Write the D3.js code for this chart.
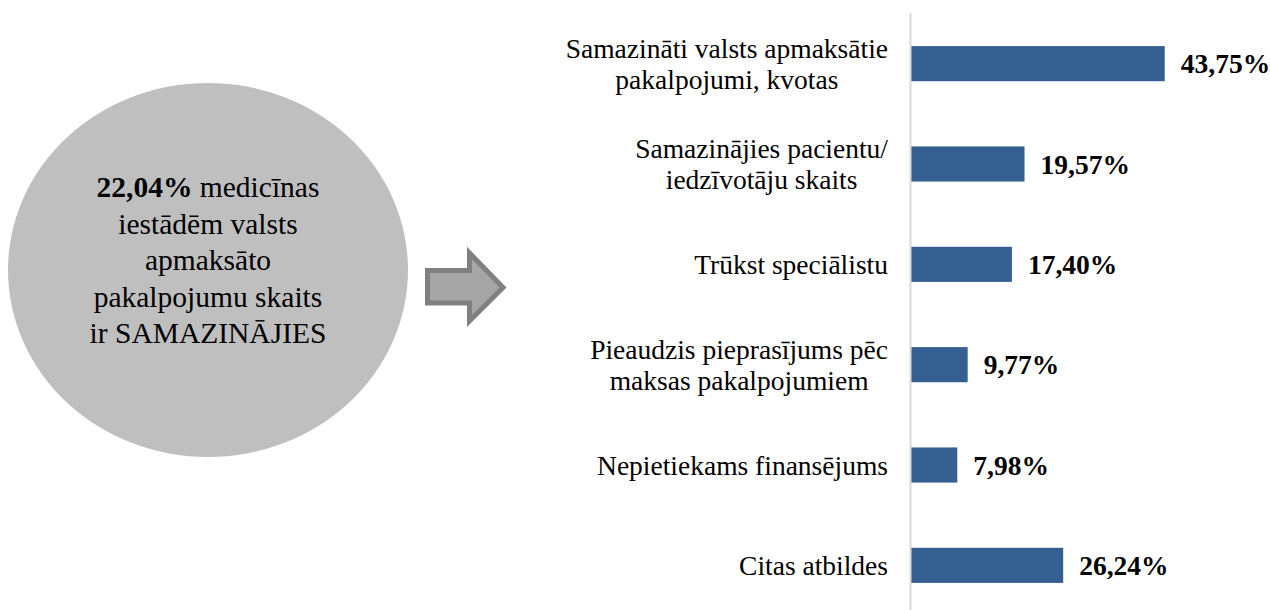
<!DOCTYPE html>
<html>
<head>
<meta charset="utf-8">
<script src="https://cdn.jsdelivr.net/npm/d3@7"></script>
<style>
  body { margin: 0; background: #fff; }
  svg { display: block; font-family: "Liberation Serif", "Times New Roman", serif; }
</style>
</head>
<body>
<div id="chart"></div>
<script>
// chart data
var categories = [
  ["Samazināti valsts apmaksātie", "pakalpojumi, kvotas"],
  ["Samazinājies pacientu/", "iedzīvotāju skaits"],
  ["Trūkst speciālistu"],
  ["Pieaudzis pieprasījums pēc", "maksas pakalpojumiem"],
  ["Nepietiekams finansējums"],
  ["Citas atbildes"]
];
var values = [43.75, 19.57, 17.40, 9.77, 7.98, 26.24];
var circleShare = 22.04;
var circleLines = ["medicīnas", "iestādēm valsts", "apmaksāto", "pakalpojumu skaits", "ir SAMAZINĀJIES"];

var W = 1270, H = 610;
var fmt = function(v) { return v.toFixed(2).replace(".", ",") + "%"; };

var svg = d3.select("#chart").append("svg")
    .attr("width", W)
    .attr("height", H);

// ---- left: grey ellipse with text ----
var cx = 208, cy = 270;
svg.append("ellipse")
    .attr("cx", cx).attr("cy", cy)
    .attr("rx", 200).attr("ry", 187)
    .attr("fill", "#bfbfbf");

var ct = svg.append("text")
    .attr("text-anchor", "middle")
    .attr("font-size", 29.5)
    .attr("fill", "#000");
circleLines.forEach(function(line, i) {
  var t = ct.append("tspan").attr("x", cx).attr("y", 197 + i * 36.5);
  if (i == 0) {
    t.append("tspan").attr("font-weight", "bold").text(fmt(circleShare));
    t.append("tspan").text(" " + line);
  } else {
    t.text(line);
  }
});

// ---- arrow ----
svg.append("path")
    .attr("d", "M427.5,270.5 L469.5,270.5 L469.5,253 L503,287.5 L469.5,321 L469.5,303 L427.5,303 Z")
    .attr("fill", "#a6a6a6")
    .attr("stroke", "#808080")
    .attr("stroke-width", 5)
    .attr("stroke-linejoin", "miter");

// ---- right: bar chart ----
var x0 = 911;
var xScale = d3.scaleLinear().domain([0, 50]).range([x0, x0 + 290]);
var yScale = d3.scaleBand()
    .domain(d3.range(categories.length))
    .range([16, 613])
    .paddingInner(0.65)
    .paddingOuter(0.3);

var g = svg.append("g");

g.selectAll("rect.bar")
  .data(values)
  .enter().append("rect")
    .attr("class", "bar")
    .attr("x", xScale(0))
    .attr("y", function(d, i) { return yScale(i); })
    .attr("width", function(d) { return xScale(d) - xScale(0); })
    .attr("height", yScale.bandwidth())
    .attr("fill", "#365f91");

// value labels
g.selectAll("text.val")
  .data(values)
  .enter().append("text")
    .attr("class", "val")
    .attr("x", function(d) { return xScale(d) + 16; })
    .attr("y", function(d, i) { return yScale(i) + yScale.bandwidth() / 2; })
    .attr("dy", "0.35em")
    .attr("font-size", 27.5)
    .attr("font-weight", "bold")
    .text(fmt);

// category labels: lines centred, block right-aligned to the axis
var labelRight = 888, lineH = 31;
categories.forEach(function(lines, i) {
  var yc = yScale(i) + yScale.bandwidth() / 2;
  var t = g.append("text")
      .attr("text-anchor", "middle")
      .attr("font-size", 27.5)
      .attr("fill", "#000");
  var spans = lines.map(function(line, j) {
    return t.append("tspan")
      .attr("y", yc + (j - (lines.length - 1) / 2) * lineH)
      .attr("dy", "0.35em")
      .text(line);
  });
  var maxW = d3.max(spans, function(s) { return s.node().getComputedTextLength(); });
  spans.forEach(function(s) { s.attr("x", labelRight - maxW / 2); });
});

// vertical axis line
svg.append("line")
    .attr("x1", x0 - 0.5).attr("x2", x0 - 0.5)
    .attr("y1", 13).attr("y2", H)
    .attr("stroke", "#d9d9d9")
    .attr("stroke-width", 2);
</script>
</body>
</html>
